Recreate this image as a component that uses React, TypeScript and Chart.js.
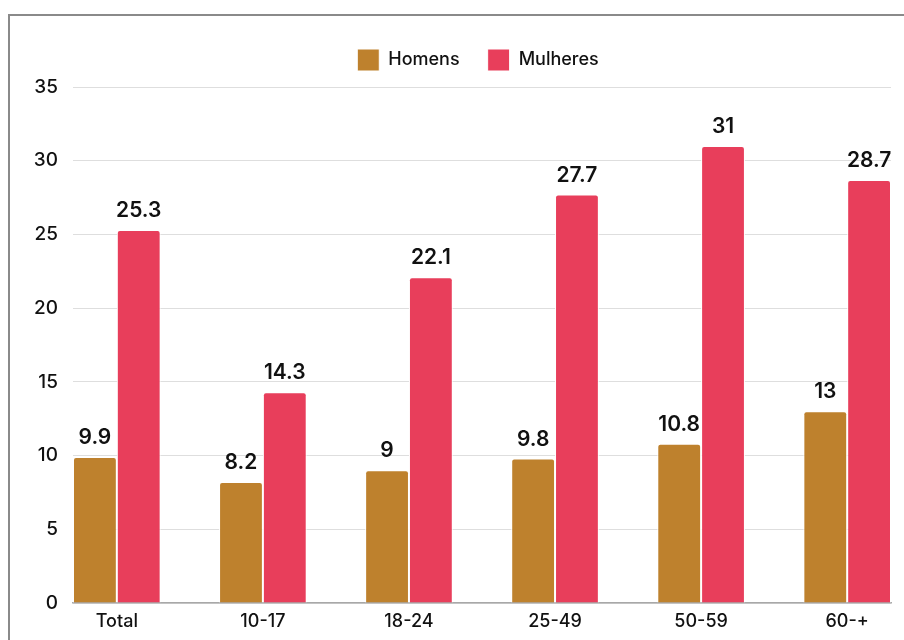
import React, { useEffect, useRef } from "react";
import { Chart, registerables } from "chart.js";

Chart.register(...registerables);

const categories = ["Total", "10-17", "18-24", "25-49", "50-59", "60-+"];
const homens = [9.9, 8.2, 9, 9.8, 10.8, 13];
const mulheres = [25.3, 14.3, 22.1, 27.7, 31, 28.7];
const seriesNames = ["Homens", "Mulheres"];
const yTickMax = 35;
const yTickStep = 5;

const legendSpacer = {
  id: "legendSpacer",
  beforeLayout(chart: any) {
    const lg = chart.legend;
    if (lg && !lg._spacerPatched) {
      const orig = lg.fit;
      lg.fit = function () {
        orig.call(this);
        this.height += 6;
      };
      lg._spacerPatched = true;
    }
  },
  afterLayout(chart: any) {
    const lg = chart.legend;
    if (lg) lg.left = 55;
  },
};

const valueLabels = {
  id: "valueLabels",
  afterDatasetsDraw(chart: any) {
    const ctx = chart.ctx;
    ctx.save();
    ctx.font = "600 21px Inter";
    ctx.fillStyle = "#111111";
    ctx.textAlign = "center";
    ctx.textBaseline = "alphabetic";
    chart.data.datasets.forEach((ds: any, di: number) => {
      const meta = chart.getDatasetMeta(di);
      meta.data.forEach((el: any, i: number) => {
        const v = ds.data[i].y;
        ctx.fillText(String(v), el.x, el.y - 13);
      });
    });
    ctx.restore();
  },
};

export default function App() {
  const ref = useRef<HTMLCanvasElement>(null);
  useEffect(() => {
    document.documentElement.style.overflow = "hidden";
    Chart.defaults.font.family = "Inter";
    const chart = new Chart(ref.current!, {
      type: "bar",
      data: {
        datasets: [
          {
            label: seriesNames[0],
            data: homens.map((v, i) => ({ x: i, y: v })),
            backgroundColor: "#BE812D",
            borderColor: "#ffffff",
            borderWidth: 1,
            borderRadius: 3,
            categoryPercentage: 0.6,
            barPercentage: 1,
          },
          {
            label: seriesNames[1],
            data: mulheres.map((v, i) => ({ x: i, y: v })),
            backgroundColor: "#E83E5B",
            borderColor: "#ffffff",
            borderWidth: 1,
            borderRadius: 3,
            categoryPercentage: 0.6,
            barPercentage: 1,
          },
        ],
      },
      options: {
        animation: false,
        responsive: false,
        layout: { padding: { top: 5, left: 0, right: 19, bottom: 0 } },
        plugins: {
          legend: {
            position: "top",
            labels: {
              boxWidth: 22,
              boxHeight: 22,
              padding: 28,
              color: "#111111",
              font: { size: 18, weight: "500" },
            },
          },
          tooltip: { enabled: false },
        },
        scales: {
          x: {
            type: "linear",
            offset: false,
            min: -0.3,
            max: 5.3,
            afterBuildTicks: (s: any) => {
              s.ticks = categories.map((_, i) => ({ value: i }));
            },
            afterFit: (s: any) => {
              s.height = 53;
            },
            ticks: {
              callback: (v: any) => categories[v] ?? "",
              color: "#111111",
              font: { size: 18, weight: "500" },
              padding: 8,
              maxRotation: 0,
              autoSkip: false,
            },
            grid: { display: false, drawTicks: false },
            border: { display: true, color: "#a8a8a8", width: 1.5 },
          },
          y: {
            min: 0,
            max: yTickMax,
            afterFit: (s: any) => {
              s.width = 63;
            },
            ticks: {
              stepSize: yTickStep,
              color: "#111111",
              font: { size: 19, weight: "500" },
              padding: 15,
            },
            grid: { color: "#dedede", drawTicks: false },
            border: { display: false },
          },
        },
      },
      plugins: [legendSpacer, valueLabels],
    } as any);
    return () => chart.destroy();
  }, []);
  return (
    <div
      style={{
        position: "absolute",
        left: 8,
        top: 14,
        width: 940,
        height: 700,
        border: "2px solid #8a8a8a",
        boxSizing: "border-box",
        background: "#fff",
      }}
    >
      <canvas ref={ref} width={900} height={640} style={{ display: "block" }} />
    </div>
  );
}
